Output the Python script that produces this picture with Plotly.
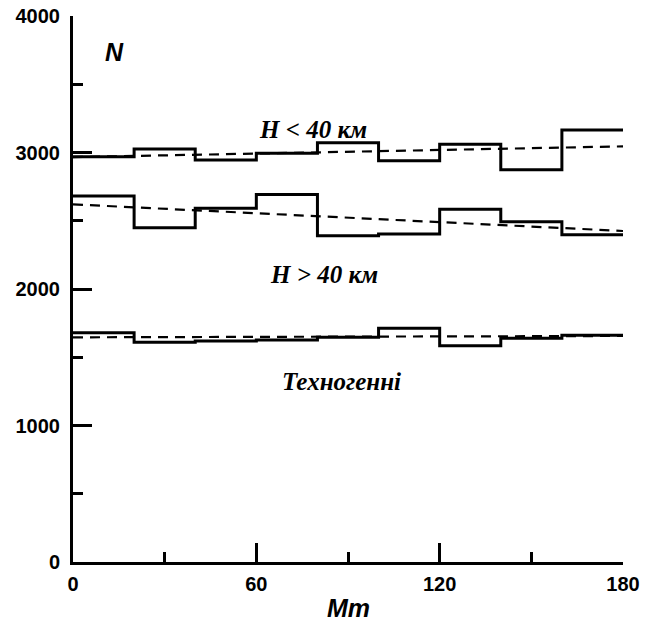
import plotly.graph_objects as go

# Bin edges (Mm)
bin_edges = [0, 20, 40, 60, 80, 100, 120, 140, 160, 180]

# Histogram counts per bin
h_less_40 = [2969, 3026, 2945, 2994, 3072, 2940, 3060, 2874, 3165]
h_more_40 = [2681, 2449, 2591, 2693, 2391, 2403, 2584, 2493, 2398]
technogenic = [1680, 1609, 1619, 1626, 1646, 1712, 1585, 1639, 1661]

# Linear trends (start, end)
trend_x = [0, 180]
trend_less_40 = [2966, 3045]
trend_more_40 = [2620, 2425]
trend_techno = [1646, 1656]

labels = ["H < 40 км", "H > 40 км", "Техногенні"]
label_x = [78.5, 82.2, 88.0]
label_y = [3165, 2103, 1319]

y_ticks = [0, 1000, 2000, 3000, 4000]
x_ticks = [0, 60, 120, 180]

fig = go.Figure()

for series in [h_less_40, h_more_40, technogenic]:
    fig.add_trace(go.Scatter(
        x=bin_edges, y=series + [series[-1]],
        mode="lines", line=dict(shape="hv", color="black", width=3),
        cliponaxis=False, showlegend=False, hoverinfo="skip"))

for tr in [trend_less_40, trend_more_40, trend_techno]:
    fig.add_trace(go.Scatter(
        x=trend_x, y=tr, mode="lines",
        line=dict(color="black", width=2.2, dash="10px,7px"),
        cliponaxis=False, showlegend=False, hoverinfo="skip"))

for t, xx, yy in zip(labels, label_x, label_y):
    fig.add_annotation(x=xx, y=yy, xref="x", yref="y", text="<b><i>%s</i></b>" % t,
                       showarrow=False,
                       font=dict(family="Liberation Serif, Times New Roman, serif", size=25, color="black"))

sans = "Liberation Sans, Arial, sans-serif"
fig.add_annotation(x=13.7, y=3736, xref="x", yref="y",
                   text="<b><i>N</i></b>", showarrow=False,
                   font=dict(family=sans, size=25, color="black"))
fig.add_annotation(x=0.5, y=-0.085, xref="paper", yref="paper", yanchor="middle",
                   text="<b><i>Mm</i></b>", showarrow=False,
                   font=dict(family=sans, size=25, color="black"))

axis_font = dict(family=sans, size=20, color="black")

fig.update_xaxes(range=[0, 180], tickvals=x_ticks, ticktext=["<b>%d</b>" % v for v in x_ticks],
                 ticks="inside", ticklen=19, tickwidth=2.5, tickcolor="black",
                 minor=dict(dtick=30, tick0=0, ticks="inside", ticklen=10, tickwidth=2.5, tickcolor="black"),
                 showline=True, linewidth=3, linecolor="black", showgrid=False, zeroline=False,
                 tickfont=axis_font, automargin=False, ticklabelstandoff=2)
fig.update_yaxes(range=[0, 4000], tickvals=y_ticks, ticktext=["<b>%d</b>" % v for v in y_ticks],
                 ticks="inside", ticklen=19, tickwidth=2.5, tickcolor="black",
                 minor=dict(dtick=500, tick0=0, ticks="inside", ticklen=10, tickwidth=2.5, tickcolor="black"),
                 showline=True, linewidth=3, linecolor="black", showgrid=False, zeroline=False,
                 tickfont=axis_font, ticklabelstandoff=6, automargin=False)

fig.update_layout(width=653, height=622, margin=dict(l=73, r=30, t=16, b=60),
                  plot_bgcolor="white", paper_bgcolor="white")

fig.write_html("out.html", config={"displayModeBar": False},
               post_script="document.body.style.margin='0';document.body.style.overflow='hidden';")
